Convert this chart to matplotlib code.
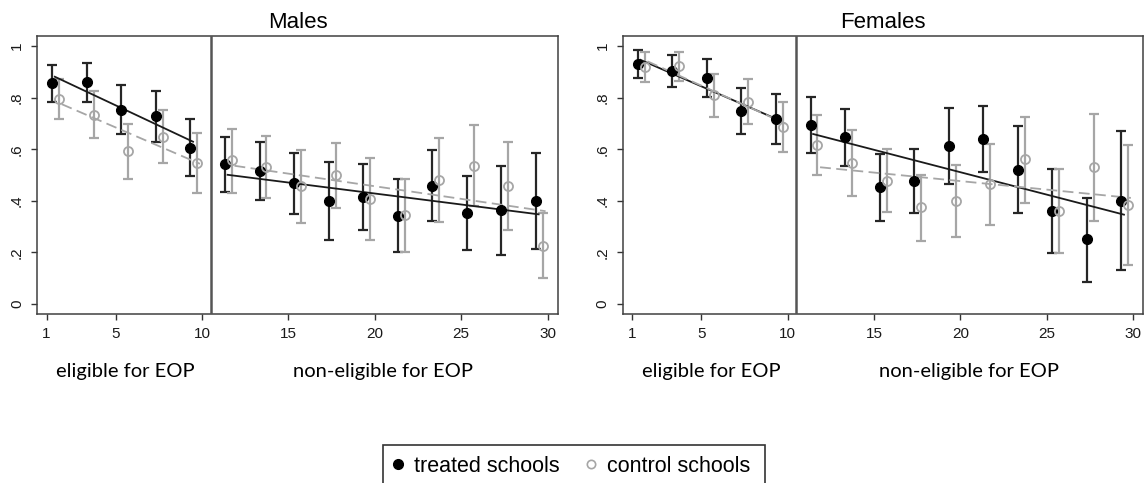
import numpy as np
import matplotlib.pyplot as plt
from matplotlib.lines import Line2D
from matplotlib.patches import Rectangle

plt.rcParams['font.family'] = ['Liberation Sans', 'DejaVu Sans']

# bin positions (treated points, control points shifted right)
x_treated = [1.33, 3.33, 5.33, 7.33, 9.33, 11.33, 13.33, 15.33, 17.33, 19.33,
             21.33, 23.33, 25.33, 27.33, 29.33]
x_control = [1.73, 3.73, 5.73, 7.73, 9.73, 11.73, 13.73, 15.73, 17.73, 19.73,
             21.73, 23.73, 25.73, 27.73, 29.73]
n_eligible = 5
cutoff = 10.5

males_treated = [0.855, 0.859, 0.752, 0.727, 0.606, 0.541, 0.516, 0.468, 0.399, 0.413,
                 0.342, 0.459, 0.354, 0.363, 0.399]
males_treated_lo = [0.784, 0.783, 0.659, 0.627, 0.497, 0.433, 0.404, 0.350, 0.248, 0.286,
                    0.202, 0.322, 0.209, 0.189, 0.213]
males_treated_hi = [0.926, 0.935, 0.849, 0.826, 0.716, 0.646, 0.628, 0.587, 0.549, 0.543,
                    0.483, 0.597, 0.497, 0.536, 0.584]
males_control = [0.795, 0.733, 0.592, 0.649, 0.548, 0.557, 0.531, 0.456, 0.499, 0.407,
                 0.344, 0.481, 0.535, 0.457, 0.225]
males_control_lo = [0.716, 0.642, 0.486, 0.548, 0.432, 0.429, 0.410, 0.315, 0.373, 0.248,
                    0.202, 0.318, 0.380, 0.286, 0.100]
males_control_hi = [0.874, 0.826, 0.698, 0.752, 0.664, 0.677, 0.651, 0.597, 0.625, 0.567,
                    0.483, 0.642, 0.693, 0.629, 0.352]

females_treated = [0.930, 0.903, 0.875, 0.748, 0.716, 0.694, 0.647, 0.452, 0.477, 0.612,
                   0.641, 0.519, 0.360, 0.251, 0.399]
females_treated_lo = [0.877, 0.842, 0.804, 0.659, 0.619, 0.584, 0.535, 0.323, 0.354, 0.465,
                      0.512, 0.352, 0.198, 0.085, 0.132]
females_treated_hi = [0.986, 0.965, 0.948, 0.839, 0.814, 0.802, 0.757, 0.580, 0.601, 0.760,
                      0.769, 0.689, 0.522, 0.412, 0.671]
females_control = [0.920, 0.922, 0.810, 0.784, 0.687, 0.616, 0.548, 0.478, 0.375, 0.399,
                   0.465, 0.561, 0.360, 0.530, 0.384]
females_control_lo = [0.862, 0.865, 0.726, 0.699, 0.590, 0.499, 0.419, 0.358, 0.245, 0.261,
                      0.305, 0.391, 0.198, 0.323, 0.151]
females_control_hi = [0.976, 0.976, 0.891, 0.872, 0.784, 0.734, 0.676, 0.599, 0.500, 0.538,
                      0.621, 0.726, 0.522, 0.735, 0.616]

x_ticks = [1, 5, 10, 15, 20, 25, 30]
y_ticks = [0, 0.2, 0.4, 0.6, 0.8, 1.0]
y_ticklabels = ['0', '.2', '.4', '.6', '.8', '1']
group_labels = ['eligible for EOP', 'non-eligible for EOP']

treat_col = '#000000'
treat_err = '#262626'
ctrl_col = '#a6a6a6'


def fit_line(ax, x, y, **kw):
    x = np.asarray(x)
    b, a = np.polyfit(x, y, 1)
    xs = np.array([x.min() + 0.15, x.max() + 0.15])
    ax.plot(xs, a + b * xs, zorder=4, **kw)


def panel(ax, title, t, t_lo, t_hi, c, c_lo, c_hi):
    t, t_lo, t_hi = map(np.asarray, (t, t_lo, t_hi))
    c, c_lo, c_hi = map(np.asarray, (c, c_lo, c_hi))
    ax.errorbar(x_treated, t, yerr=[t - t_lo, t_hi - t], fmt='none', ecolor=treat_err,
                elinewidth=1.6, capsize=3.5, capthick=1.6, zorder=2)
    ax.errorbar(x_control, c, yerr=[c - c_lo, c_hi - c], fmt='none', ecolor=ctrl_col,
                elinewidth=1.6, capsize=3.5, capthick=1.6, zorder=2)
    ax.plot(x_treated, t, 'o', color=treat_col, ms=7, zorder=5)
    ax.plot(x_control, c, 'o', mfc='none', mec=ctrl_col, mew=1.3, ms=6.5, zorder=5)

    k = n_eligible
    fit_line(ax, x_treated[:k], t[:k], color='#1a1a1a', lw=1.3)
    fit_line(ax, x_treated[k:], t[k:], color='#1a1a1a', lw=1.3)
    fit_line(ax, x_control[:k], c[:k], color=ctrl_col, lw=1.3, dashes=(6, 3))
    fit_line(ax, x_control[k:], c[k:], color=ctrl_col, lw=1.3, dashes=(6, 3))

    ax.axvline(cutoff, color='#555555', lw=1.8, zorder=3)
    ax.set_xlim(0.45, 30.6)
    ax.set_ylim(-0.039, 1.039)
    ax.set_xticks(x_ticks)
    ax.set_yticks(y_ticks)
    ax.set_yticklabels(y_ticklabels, rotation=90, va='center')
    ax.tick_params(axis='both', length=4.3, width=1.0, color='#333333',
                   labelsize=11, labelcolor='#1a1a1a', pad=5)
    for s in ax.spines.values():
        s.set_color('#404040')
        s.set_linewidth(1.1)
    ax.set_title(title, fontsize=16, pad=5.5)

    trans = ax.get_xaxis_transform()
    ax.text((0.45 + cutoff) / 2 + 0.1, -0.227, group_labels[0], transform=trans,
            ha='center', va='baseline', fontsize=14.5, family=['Lato', 'DejaVu Sans'])
    ax.text((cutoff + 30.5) / 2, -0.227, group_labels[1], transform=trans,
            ha='center', va='baseline', fontsize=14.5, family=['Lato', 'DejaVu Sans'])


W, H = 1147, 483
fig = plt.figure(figsize=(W / 100, H / 100), dpi=100)
ax1 = fig.add_axes([37 / W, 1 - 314 / H, 521 / W, 278 / H])
ax2 = fig.add_axes([622.7 / W, 1 - 314 / H, 520.6 / W, 278 / H])

panel(ax1, 'Males', males_treated, males_treated_lo, males_treated_hi,
      males_control, males_control_lo, males_control_hi)
panel(ax2, 'Females', females_treated, females_treated_lo, females_treated_hi,
      females_control, females_control_lo, females_control_hi)

# legend box runs off the bottom edge
fig.add_artist(Rectangle((383 / W, -0.05), (765 - 383) / W, (483 - 445) / H + 0.05,
                         transform=fig.transFigure, fill=False, edgecolor='#333333',
                         lw=1.2, clip_on=False))
handles = [Line2D([], [], ls='none', marker='o', color='black', ms=7),
           Line2D([], [], ls='none', marker='o', mfc='none', mec=ctrl_col, mew=1.2, ms=6)]
fig.legend(handles, ['treated schools', 'control schools'], ncol=2, frameon=False,
           loc='center', bbox_to_anchor=(570 / W, 0.035), fontsize=15.5,
           handlelength=0.7, handletextpad=0.4, columnspacing=1.1)

fig.savefig('out.png', dpi=100)
